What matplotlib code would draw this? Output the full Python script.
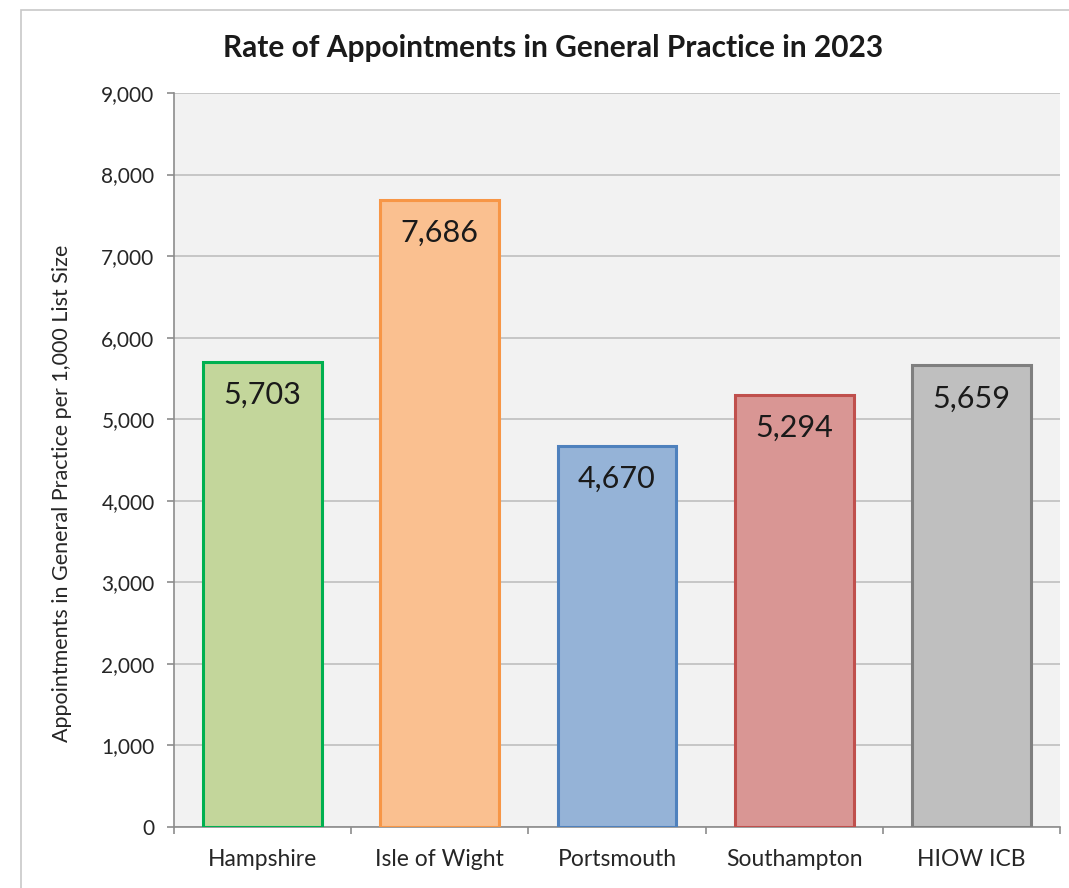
import matplotlib
matplotlib.use("Agg")
import matplotlib.pyplot as plt
from matplotlib.patches import Rectangle
from matplotlib.ticker import FuncFormatter, MultipleLocator, FixedLocator

categories = ["Hampshire", "Isle of Wight", "Portsmouth", "Southampton", "HIOW ICB"]
values = [5703, 7686, 4670, 5294, 5659]
fill_colors = ["#c3d69b", "#fac090", "#95b3d7", "#d99694", "#bfbfbf"]
edge_colors = ["#00b050", "#f79646", "#4f81bd", "#c0504d", "#7f7f7f"]
title = "Rate of Appointments in General Practice in 2023"
ylabel = "Appointments in General Practice per 1,000 List Size"

plt.rcParams['font.family'] = ['Lato', 'DejaVu Sans']

fig = plt.figure(figsize=(10.69, 8.88), dpi=100)
fig.patch.set_facecolor("white")
# outer chart border
fig.patches.append(Rectangle((21/1069, -0.05), 1.2, 1 - 10/888 + 0.05, transform=fig.transFigure,
                             fill=False, edgecolor="#c8c8c8", linewidth=1.2, zorder=0))

ax = fig.add_axes([174/1069, 1 - 827/888, (1060 - 174)/1069, (827 - 93)/888])
ax.set_facecolor("#f2f2f2")
x = list(range(len(categories)))
bars = ax.bar(x, values, width=0.67, color=fill_colors, edgecolor=edge_colors, linewidth=2.2, zorder=3)
ax.set_xlim(-0.5, len(categories) - 0.5)
ax.set_ylim(0, 9000)
ax.yaxis.set_major_locator(MultipleLocator(1000))
ax.yaxis.set_major_formatter(FuncFormatter(lambda v, p: f"{int(v):,}"))
ax.grid(axis="y", color="#bfbfbf", linewidth=1.2, zorder=0)
ax.set_axisbelow(True)
for s in ["top", "right"]:
    ax.spines[s].set_visible(False)
for s in ["left", "bottom"]:
    ax.spines[s].set_color("#8c8c8c")
    ax.spines[s].set_linewidth(1.2)

ax.set_xticks(x)
ax.set_xticklabels(categories, fontsize=16.5, color="#262626")
ax.xaxis.set_minor_locator(FixedLocator([i - 0.5 for i in range(len(categories) + 1)]))
ax.tick_params(axis="x", which="major", length=0, pad=16)
ax.tick_params(axis="x", which="minor", length=5, color="#8c8c8c", width=1.2)
ax.tick_params(axis="y", length=5, color="#8c8c8c", width=1.2, labelsize=15, labelcolor="#262626", pad=9)

fig.text(62/1069, 1 - 493.5/888, ylabel, rotation=90, ha="center", va="center",
         fontsize=15.5, color="#262626")

for xi, v in zip(x, values):
    ax.annotate(f"{v:,}", (xi, v), xytext=(0, -33), textcoords="offset pixels",
                ha="center", va="center", fontsize=22, color="#1a1a1a", zorder=4)

fig.text(553/1069, 1 - 48/888, title, ha="center", va="center",
         fontsize=21.5, fontweight="bold", color="#1a1a1a")

fig.savefig("out.png", dpi=100)
